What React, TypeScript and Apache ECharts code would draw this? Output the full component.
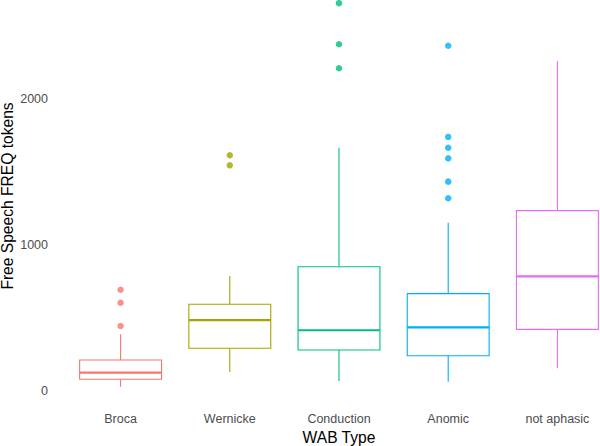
import React, { useEffect, useRef } from "react";
import * as echarts from "echarts";

const categories = ["Broca", "Wernicke", "Conduction", "Anomic", "not aphasic"];
const colors = ["#F8766D", "#A3A500", "#00BF7D", "#00B0F6", "#E76BF3"];
const whiskerLow = [27, 128, 67, 62, 154];
const q1 = [78, 291, 279, 240, 421];
const median = [124, 485, 415, 435, 785];
const q3 = [211, 593, 851, 666, 1236];
const whiskerHigh = [387, 787, 1668, 1153, 2263];
const outliers: number[][] = [
  [693, 604, 444],
  [1616, 1547],
  [2660, 2378, 2213],
  [2368, 1742, 1668, 1595, 1435, 1321],
  [],
];
const yTicks = [0, 1000, 2000];
const xTitle = "WAB Type";
const yTitle = "Free Speech FREQ tokens";

const FONT = "'Liberation Sans', Arial, Helvetica, sans-serif";

export default function App() {
  const ref = useRef<HTMLDivElement>(null);
  useEffect(() => {
    if (!ref.current) return;
    const chart = echarts.init(ref.current, undefined, { renderer: "svg" });
    const boxData = categories.map((_, i) => [
      i,
      whiskerLow[i],
      q1[i],
      median[i],
      q3[i],
      whiskerHigh[i],
    ]);
    const pointData: any[] = [];
    outliers.forEach((arr, i) =>
      arr.forEach((v) =>
        pointData.push({ value: [i, v], itemStyle: { color: colors[i] } })
      )
    );
    chart.setOption({
      animation: false,
      backgroundColor: "#ffffff",
      textStyle: { fontFamily: FONT },
      grid: {
        left: 66,
        width: 546,
        top: -14,
        height: 421,
        containLabel: false,
        outerBoundsMode: "none",
      },
      graphic: [
        {
          type: "text",
          x: 7.5,
          y: 196,
          rotation: Math.PI / 2,
          style: {
            text: yTitle,
            fill: "#000000",
            fontSize: 15.6,
            fontFamily: FONT,
            align: "center",
            verticalAlign: "middle",
          },
        },
      ],
      xAxis: {
        type: "category",
        data: categories,
        axisLine: { show: false },
        axisTick: { show: false },
        splitLine: { show: false },
        axisLabel: { color: "#4D4D4D", fontSize: 12.5, margin: 5, fontFamily: FONT },
        name: xTitle,
        nameLocation: "middle",
        nameGap: 21,
        nameTextStyle: { color: "#000000", fontSize: 15.6, fontFamily: FONT },
      },
      yAxis: {
        type: "value",
        min: -112,
        max: 2778,
        axisLine: { show: false },
        axisTick: { show: false },
        splitLine: { show: false },
        axisLabel: {
          customValues: yTicks,
          formatter: (v: number) => String(v),
          color: "#4D4D4D",
          fontSize: 12.5,
          margin: 18,
          fontFamily: FONT,
        },
      },
      series: [
        {
          type: "custom",
          data: boxData,
          encode: { x: 0, y: [1, 2, 3, 4, 5] },
          renderItem: (params: any, api: any) => {
            const idx = api.value(0);
            const lo = api.coord([idx, api.value(1)]);
            const b1 = api.coord([idx, api.value(2)]);
            const md = api.coord([idx, api.value(3)]);
            const b3 = api.coord([idx, api.value(4)]);
            const hi = api.coord([idx, api.value(5)]);
            const bw = api.size([1, 0])[0] * 0.75;
            const x = lo[0];
            const half = bw / 2;
            const color = colors[idx];
            return {
              type: "group",
              children: [
                {
                  type: "line",
                  shape: { x1: x, y1: b3[1], x2: x, y2: hi[1] },
                  style: { stroke: color, lineWidth: 1.1 },
                },
                {
                  type: "line",
                  shape: { x1: x, y1: b1[1], x2: x, y2: lo[1] },
                  style: { stroke: color, lineWidth: 1.1 },
                },
                {
                  type: "rect",
                  shape: { x: x - half, y: b3[1], width: bw, height: b1[1] - b3[1] },
                  style: { stroke: color, fill: "#ffffff", lineWidth: 1.1 },
                },
                {
                  type: "line",
                  shape: { x1: x - half, y1: md[1], x2: x + half, y2: md[1] },
                  style: { stroke: color, lineWidth: 2.2 },
                },
              ],
            };
          },
        },
        {
          type: "scatter",
          data: pointData,
          symbol: "circle",
          symbolSize: 6.5,
        },
      ],
    });
    return () => chart.dispose();
  }, []);
  return (
    <div
      ref={ref}
      style={{ position: "fixed", left: 0, top: 0, width: 600, height: 446 }}
    />
  );
}
